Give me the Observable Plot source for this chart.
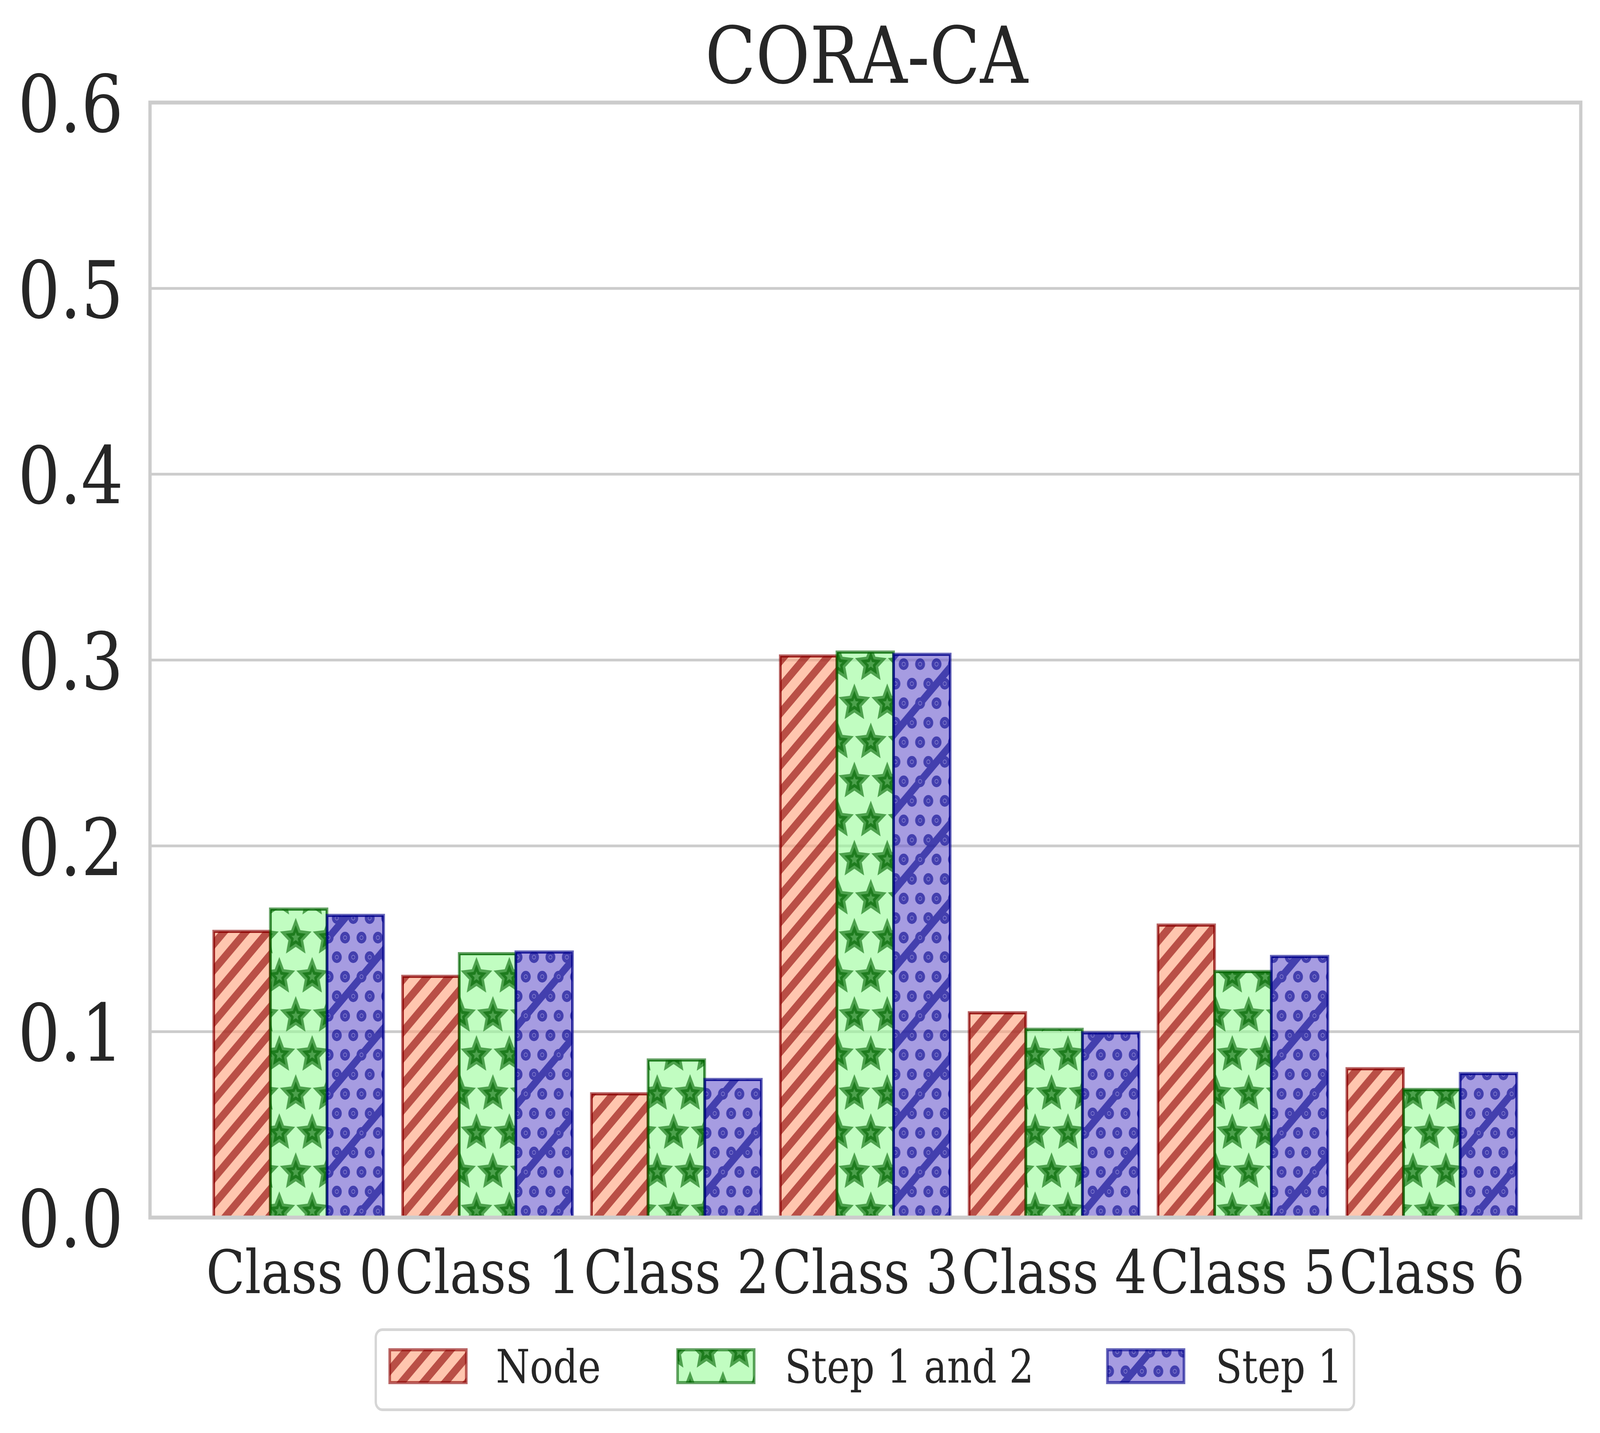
<!DOCTYPE html>
<html>
<head>
<meta charset="utf-8">
<script src="https://cdn.jsdelivr.net/npm/d3@7"></script>
<script src="https://cdn.jsdelivr.net/npm/@observablehq/plot@0.6"></script>
<style>
  html, body { margin: 0; padding: 0; background: #ffffff; overflow: hidden; }
  #outer { position: relative; overflow: hidden; background: #ffffff; }
  #wrap { position: absolute; left: 0; top: 0; width: 4869px; height: 3668px; background: #ffffff; font-family: "DejaVu Serif", serif; color: #262626; transform-origin: 0 0; }
  #wrap > svg { position: absolute; left: 0; }
</style>
</head>
<body>
<div id="outer"><div id="wrap"></div></div>
<script>
// ---------------- data ----------------
const chartTitle = "CORA-CA";
const classes = ["Class 0", "Class 1", "Class 2", "Class 3", "Class 4", "Class 5", "Class 6"];
const seriesNames = ["Node", "Step 1 and 2", "Step 1"];
const nodeValues   = [0.1539, 0.1297, 0.0665, 0.3021, 0.1101, 0.1573, 0.0800];
const step12Values = [0.1659, 0.1419, 0.0847, 0.3042, 0.1012, 0.1323, 0.0688];
const step1Values  = [0.1625, 0.1428, 0.0742, 0.3030, 0.0993, 0.1404, 0.0774];
const yTicks = [0.0, 0.1, 0.2, 0.3, 0.4, 0.5, 0.6];
const gridTicks = [0.1, 0.2, 0.3, 0.4, 0.5];

const seriesValues = [nodeValues, step12Values, step1Values];
const rows = [];
seriesNames.forEach((s, si) => classes.forEach((c, ci) => rows.push({cls: c, series: s, value: seriesValues[si][ci]})));

// ---------------- style ----------------
const edgeColors = ["#8B0000", "#006400", "#00008B"];
const faceColors = ["#FFA07A", "#98FB98", "#6A5ACD"];
const patIds = ["patNode", "patStep12", "patStep1"];
const SVGNS = "http://www.w3.org/2000/svg";
const DESIGN_W = 4869, DESIGN_H = 3668;
const outer = document.getElementById("outer");
const wrap = document.getElementById("wrap");

// fit the 4869x3668 design to the viewport the page actually gets
const vw = window.innerWidth || DESIGN_W, vh = window.innerHeight || DESIGN_H;
const sx = vw / DESIGN_W, sy = vh / DESIGN_H;
outer.style.width = vw + "px";
outer.style.height = vh + "px";
wrap.style.transform = `scale(${sx}, ${sy})`;

// ---------------- hatch patterns ----------------
function starPath(cx, cy, R, r) {
  let p = "";
  for (let i = 0; i < 10; i++) {
    const a = -Math.PI / 2 + i * Math.PI / 5;
    const rad = i % 2 === 0 ? R : r;
    p += (i === 0 ? "M" : "L") + (cx + rad * Math.cos(a)).toFixed(2) + "," + (cy + rad * Math.sin(a)).toFixed(2);
  }
  return p + "Z";
}
function buildDefs() {
  const T = 200;
  let s = `<svg xmlns="${SVGNS}" width="0" height="0" style="position:absolute;left:0;top:0"><defs>`;
  let lines = "";
  for (let i = 0; i <= 6; i++) {
    const c = i * T / 3;
    lines += `M${-30},${c + 30}L${c + 30},${-30}`;
  }
  s += `<pattern id="${patIds[0]}" patternUnits="userSpaceOnUse" x="0" y="0" width="${T}" height="${T}">
    <rect width="${T}" height="${T}" fill="${faceColors[0]}" fill-opacity="0.6"/>
    <path d="${lines}" stroke="${edgeColors[0]}" stroke-opacity="0.6" stroke-width="21" fill="none"/>
  </pattern>`;
  const centers = [[0,0],[100,0],[200,0],[0,200],[100,200],[200,200],[-50,100],[50,100],[150,100],[250,100]];
  const stars = centers.map(([x, y]) => starPath(x, y, 32, 15)).join("");
  s += `<pattern id="${patIds[1]}" patternUnits="userSpaceOnUse" x="0" y="0" width="${T}" height="${T}">
    <rect width="${T}" height="${T}" fill="${faceColors[1]}" fill-opacity="0.6"/>
    <path d="${stars}" fill="${edgeColors[1]}" fill-opacity="0.6" stroke="none"/>
    <g opacity="0.6"><path d="${stars}" fill="none" stroke="${edgeColors[1]}" stroke-width="15" stroke-linejoin="miter" stroke-miterlimit="4"/></g>
  </pattern>`;
  let dots = "", rings = "";
  for (let y = 0; y <= T; y += 50) {
    const odd = (y / 50) % 2 === 1;
    for (let x = odd ? 25 : 0; x <= T; x += 50) {
      dots += `<circle cx="${x}" cy="${y}" r="15"/>`;
      rings += `<circle cx="${x}" cy="${y}" r="5"/>`;
    }
  }
  const diag = `M-30,30L30,-30M-30,230L230,-30M170,230L230,170`;
  s += `<pattern id="${patIds[2]}" patternUnits="userSpaceOnUse" x="0" y="0" width="${T}" height="${T}">
    <rect width="${T}" height="${T}" fill="${faceColors[2]}" fill-opacity="0.6"/>
    <g opacity="0.6" fill="${edgeColors[2]}">${dots}<path d="${diag}" fill="none" stroke="${edgeColors[2]}" stroke-width="20"/></g>
    <g fill="none" stroke="#c9c2f2" stroke-width="1.3" stroke-opacity="0.6">${rings}</g>
  </pattern>`;
  s += `</defs></svg>`;
  const holder = document.createElement("div");
  holder.innerHTML = s;
  wrap.appendChild(holder.firstElementChild);
}
buildDefs();

// ---------------- layout ----------------
const W = DESIGN_W, H = 3360;
const mL = 456, mR = 59, mT = 262, mB = H - 3116;
const PAD_IN = 0.1, PAD_OUT = 0.338;
const plotW = W - mL - mR;
const step = plotW / (classes.length - PAD_IN + 2 * PAD_OUT);
const bandW = step * (1 - PAD_IN);
const third = bandW / 3;

const marks = [Plot.gridY(gridTicks, {stroke: "#cccccc", strokeOpacity: 1, strokeWidth: 7})];
seriesNames.forEach((s, i) => {
  const data = rows.filter(d => d.series === s);
  marks.push(Plot.barY(data, {
    x: "cls", y: "value", fill: `url(#${patIds[i]})`,
    stroke: edgeColors[i], strokeOpacity: 0.6, strokeWidth: 8,
    insetLeft: i * third, insetRight: (2 - i) * third
  }));
  marks.push(Plot.barY(data, {
    x: "cls", y: "value", fill: "none",
    stroke: edgeColors[i], strokeOpacity: 0.6, strokeWidth: 4,
    insetLeft: i * third + 2, insetRight: (2 - i) * third + 2, insetTop: 2
  }));
});
marks.push(Plot.axisY(yTicks, {tickSize: 0, tickPadding: 81, fontSize: 202, tickFormat: d3.format(".1f"), dy: 10, label: null}));
marks.push(Plot.axisX({tickSize: 0, tickPadding: 84, fontSize: 154, label: null}));
marks.push(Plot.frame({stroke: "#cccccc", strokeWidth: 10}));

const chart = Plot.plot({
  width: W, height: H,
  marginLeft: mL, marginRight: mR, marginTop: mT, marginBottom: mB,
  style: {fontFamily: "DejaVu Serif", color: "#262626", background: "transparent", overflow: "visible", maxWidth: "none"},
  x: {domain: classes, paddingInner: PAD_IN, paddingOuter: PAD_OUT, align: 0.5, round: false, label: null},
  y: {domain: [0, 0.6], nice: false, label: null},
  marks
});
chart.style.top = "0px";
wrap.appendChild(chart);

// ---------------- title ----------------
const tsvg = document.createElementNS(SVGNS, "svg");
tsvg.setAttribute("width", W); tsvg.setAttribute("height", 262);
tsvg.style.top = "0px";
const tt = document.createElementNS(SVGNS, "text");
tt.setAttribute("x", (mL + W - mR) / 2 + 4);
tt.setAttribute("y", 212);
tt.setAttribute("text-anchor", "middle");
tt.setAttribute("font-family", "DejaVu Serif");
tt.setAttribute("font-size", 201);
tt.setAttribute("fill", "#262626");
tt.textContent = chartTitle;
tsvg.appendChild(tt);
wrap.appendChild(tsvg);

// ---------------- legend ----------------
const LTOP = 3360;
const lsvg = document.createElementNS(SVGNS, "svg");
lsvg.setAttribute("width", W); lsvg.setAttribute("height", DESIGN_H - LTOP);
lsvg.style.top = LTOP + "px";
const box = document.createElementNS(SVGNS, "rect");
box.setAttribute("x", 1143.5); box.setAttribute("y", 3403.5 - LTOP);
box.setAttribute("width", 2977); box.setAttribute("height", 205);
box.setAttribute("rx", 20); box.setAttribute("ry", 20);
box.setAttribute("fill", "#ffffff"); box.setAttribute("stroke", "#d6d6d6"); box.setAttribute("stroke-width", 7);
lsvg.appendChild(box);
const patchX = [1186, 2062, 3370];
const textX = [1509, 2388, 3699];
seriesNames.forEach((s, i) => {
  const r = document.createElementNS(SVGNS, "rect");
  r.setAttribute("x", patchX[i]); r.setAttribute("y", 3455 - LTOP);
  r.setAttribute("width", 233); r.setAttribute("height", 84);
  r.setAttribute("fill", `url(#${patIds[i]})`);
  r.setAttribute("stroke", edgeColors[i]); r.setAttribute("stroke-opacity", 0.6); r.setAttribute("stroke-width", 8);
  lsvg.appendChild(r);
  const t = document.createElementNS(SVGNS, "text");
  t.setAttribute("x", textX[i]); t.setAttribute("y", 3539 - LTOP);
  t.setAttribute("font-family", "DejaVu Serif"); t.setAttribute("font-size", 118);
  t.setAttribute("fill", "#262626");
  t.textContent = s;
  lsvg.appendChild(t);
});
wrap.appendChild(lsvg);
</script>
</body>
</html>
